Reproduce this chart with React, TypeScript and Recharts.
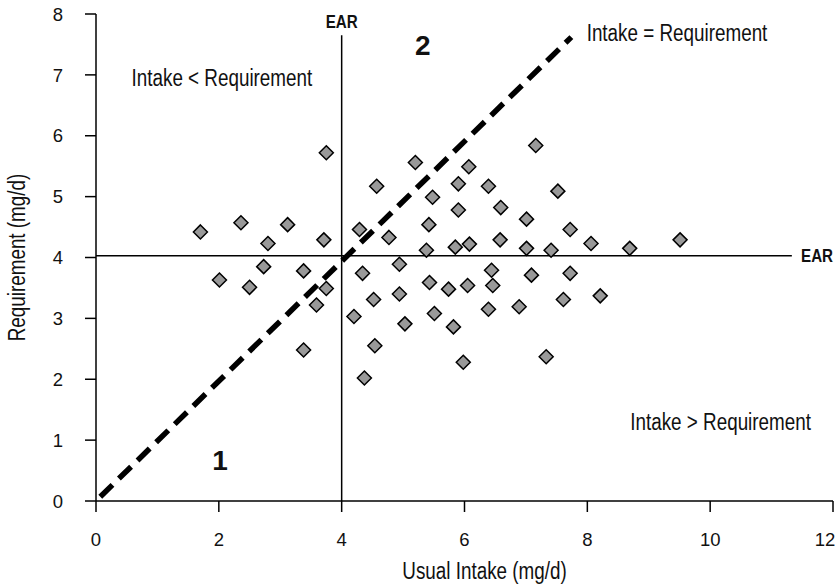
import React from "react";
import {
  ScatterChart,
  Scatter,
  XAxis,
  YAxis,
  ReferenceLine,
  ReferenceDot,
} from "recharts";

const FONT = "'Liberation Sans', Arial, sans-serif";
// the original type is a condensed Helvetica; squeeze Liberation Sans to match
const SQUEEZE = 0.82;

// usual intake (mg/d) of each person
const intake = [
  1.7, 2.36, 3.12, 2.8, 3.71, 3.75, 2.73, 3.38, 2.01, 2.5, 3.75, 3.59, 3.38,
  5.2, 6.07, 4.57, 5.9, 6.39, 5.48, 5.9, 6.59, 4.29, 5.42, 4.77, 5.38, 5.85,
  6.08, 6.58, 7.16, 7.52, 7.01, 7.72, 7.01, 7.41, 8.06, 8.69, 9.51, 4.94, 4.34,
  6.44, 5.43, 5.74, 6.05, 6.46, 4.52, 4.94, 4.2, 5.51, 6.39, 5.03, 5.82, 4.54,
  5.98, 4.37, 7.09, 7.72, 6.89, 7.61, 8.21, 7.33,
];

// requirement (mg/d) of each person
const requirement = [
  4.42, 4.57, 4.54, 4.23, 4.29, 5.72, 3.85, 3.78, 3.63, 3.51, 3.49, 3.22, 2.48,
  5.56, 5.49, 5.17, 5.21, 5.17, 4.99, 4.78, 4.82, 4.46, 4.54, 4.33, 4.12, 4.17,
  4.22, 4.29, 5.84, 5.09, 4.63, 4.46, 4.15, 4.12, 4.23, 4.15, 4.29, 3.89, 3.74,
  3.79, 3.59, 3.48, 3.54, 3.54, 3.31, 3.4, 3.03, 3.08, 3.15, 2.91, 2.86, 2.55,
  2.28, 2.02, 3.71, 3.74, 3.19, 3.31, 3.37, 2.37,
];

const xTicks = [0, 2, 4, 6, 8, 10, 12];
const yTicks = [0, 1, 2, 3, 4, 5, 6, 7, 8];

const earIntake = 4;
const earRequirement = 4.03;
const earLineTop = 7.65;
const earLineRight = 11.33;
const equalityStart = 0.07;
const equalityEnd = [7.74, 7.62];

const notes = [
  { text: "EAR", x: 4, y: 7.88, size: 18.5, bold: true, squeeze: true },
  { text: "EAR", x: 11.74, y: 4.03, size: 18.5, bold: true, squeeze: true },
  { text: "2", x: 5.32, y: 7.49, size: 28, bold: true, squeeze: false },
  { text: "1", x: 2.02, y: 0.67, size: 28, bold: true, squeeze: false },
  { text: "Intake < Requirement", x: 2.05, y: 6.95, size: 23, bold: false, squeeze: true },
  { text: "Intake = Requirement", x: 9.46, y: 7.7, size: 23, bold: false, squeeze: true },
  { text: "Intake > Requirement", x: 10.17, y: 1.3, size: 23, bold: false, squeeze: true },
];

const points = intake.map((x, i) => ({ x, y: requirement[i] }));

const Diamond = (props: any) => {
  const { cx, cy } = props;
  const r = 7;
  return (
    <polygon
      points={`${cx},${cy - r} ${cx + r},${cy} ${cx},${cy + r} ${cx - r},${cy}`}
      fill="#999999"
      stroke="#000"
      strokeWidth={1.5}
    />
  );
};

type CondProps = {
  x: number;
  y: number;
  text: string | number;
  size: number;
  bold?: boolean;
  anchor?: string;
  dy?: string;
  rotate?: number;
  squeeze?: boolean;
};

const CondText = ({ x, y, text, size, bold, anchor = "middle", dy = "0.36em", rotate, squeeze = true }: CondProps) => (
  <g transform={`translate(${x},${y})${rotate ? ` rotate(${rotate})` : ""} scale(${squeeze ? SQUEEZE : 1},1)`}>
    <text
      x={0}
      y={0}
      dy={dy}
      textAnchor={anchor as any}
      fontFamily={FONT}
      fontSize={size}
      fontWeight={bold ? 700 : 400}
      fill="#111"
    >
      {text}
    </text>
  </g>
);

const noteContent = (n: (typeof notes)[number]) => (props: any) => {
  const vb = props.viewBox || {};
  const cx = (vb.x ?? 0) + (vb.width ?? 0) / 2;
  const cy = (vb.y ?? 0) + (vb.height ?? 0) / 2;
  return <CondText x={cx} y={cy} text={n.text} size={n.size} bold={n.bold} squeeze={n.squeeze} />;
};

// the last label sits a little left so it stays inside the frame
const XTick = (props: any) => {
  const last = props.payload.value === xTicks[xTicks.length - 1];
  return (
    <CondText
      x={last ? props.x - 6 : props.x}
      y={props.y}
      text={props.payload.value}
      size={18.5}
      dy="0.71em"
      squeeze={false}
    />
  );
};

const YTick = (props: any) => (
  <CondText x={props.x} y={props.y} text={props.payload.value} size={18.5} anchor="end" squeeze={false} />
);

export default function App() {
  return (
    <div style={{ position: "absolute", left: 0, top: 0, width: 839, height: 587, background: "#fff" }}>
      <ScatterChart
        width={839}
        height={587}
        margin={{ top: 14, right: 6, bottom: 0, left: 0 }}
      >
        <XAxis
          type="number"
          dataKey="x"
          domain={[0, 12]}
          ticks={xTicks}
          height={86}
          tickSize={11}
          tickMargin={21}
          axisLine={{ stroke: "#000", strokeWidth: 1.5 }}
          tickLine={{ stroke: "#000", strokeWidth: 1.5 }}
          tick={XTick}
          label={{
            content: (props: any) => {
              const vb = props.viewBox;
              return (
                <CondText
                  x={vb.x + vb.width / 2 + 20}
                  y={vb.y + vb.height - 8}
                  text="Usual Intake (mg/d)"
                  size={23}
                  dy="0"
                />
              );
            },
          }}
        />
        <YAxis
          type="number"
          dataKey="y"
          domain={[0, 8]}
          ticks={yTicks}
          width={96}
          tickSize={11}
          tickMargin={22}
          axisLine={{ stroke: "#000", strokeWidth: 1.5 }}
          tickLine={{ stroke: "#000", strokeWidth: 1.5 }}
          tick={YTick}
          label={{
            content: (props: any) => {
              const vb = props.viewBox;
              return (
                <CondText
                  x={17}
                  y={vb.y + vb.height / 2}
                  text="Requirement (mg/d)"
                  size={23}
                  rotate={-90}
                />
              );
            },
          }}
        />
        <ReferenceLine
          segment={[
            { x: earIntake, y: 0 },
            { x: earIntake, y: earLineTop },
          ]}
          stroke="#000"
          strokeWidth={1.5}
          ifOverflow="visible"
        />
        <ReferenceLine
          segment={[
            { x: 0, y: earRequirement },
            { x: earLineRight, y: earRequirement },
          ]}
          stroke="#000"
          strokeWidth={1.5}
          ifOverflow="visible"
        />
        <ReferenceLine
          segment={[
            { x: equalityStart, y: equalityStart },
            { x: equalityEnd[0], y: equalityEnd[1] },
          ]}
          stroke="#000"
          strokeWidth={5.5}
          strokeDasharray="17 9"
          ifOverflow="visible"
        />
        {notes.map((n, i) => (
          <ReferenceDot
            key={i}
            x={n.x}
            y={n.y}
            r={0}
            fill="none"
            stroke="none"
            ifOverflow="visible"
            label={{ content: noteContent(n) }}
          />
        ))}
        <Scatter data={points} shape={Diamond} isAnimationActive={false} />
      </ScatterChart>
    </div>
  );
}
